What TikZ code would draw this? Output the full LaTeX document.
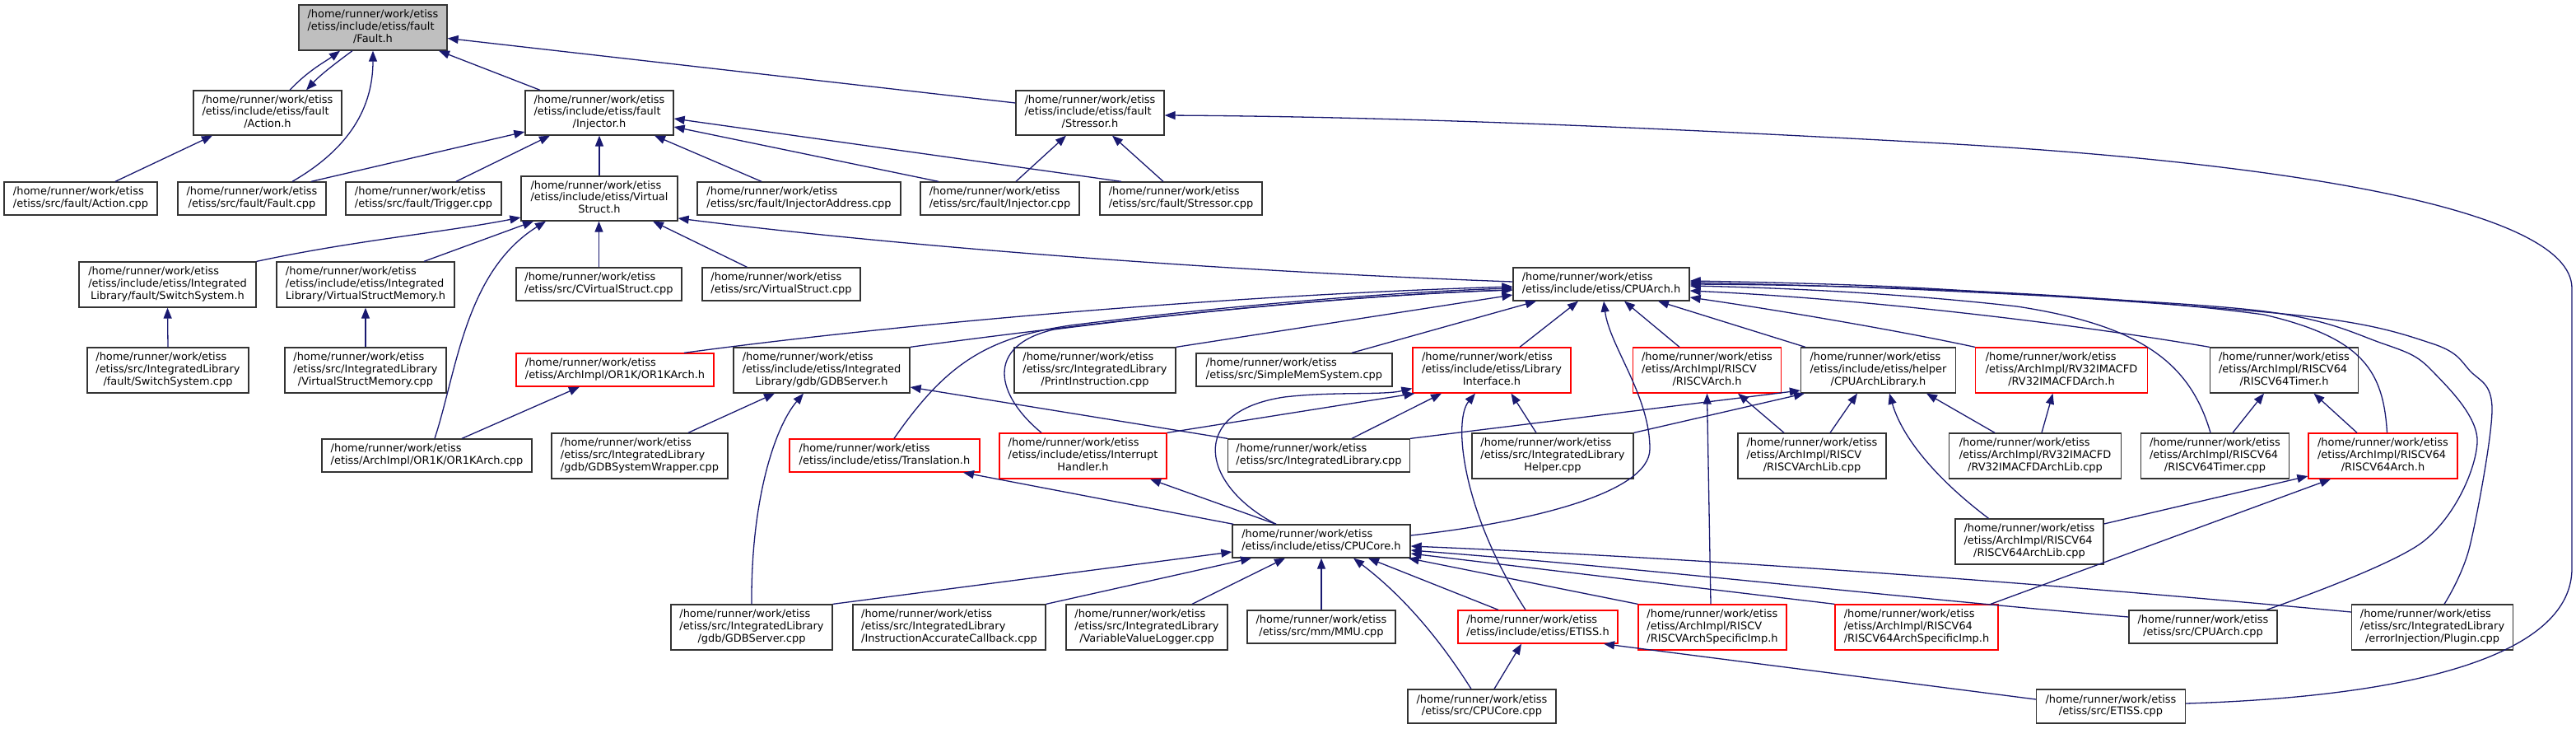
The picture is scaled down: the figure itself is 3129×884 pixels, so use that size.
\documentclass[tikz,border=0pt]{standalone}
\usepackage{fontspec}
\setmainfont{DejaVu Sans}
\usetikzlibrary{arrows.meta}
\definecolor{edgecol}{HTML}{191970}
\definecolor{rootfill}{HTML}{BFBFBF}
\definecolor{redborder}{HTML}{FF0000}
\definecolor{boxborder}{HTML}{333333}
\newcommand\nodefont{\fontsize{12.95}{14.7}\selectfont}
\newcommand\hp{/home/runner/work/etiss}
\newcommand\lthree[3]{\begin{tabular}{@{}l@{}}#1\\#2\\\multicolumn{1}{@{}c@{}}{#3}\end{tabular}}
\newcommand\ltwo[2]{\begin{tabular}{@{}l@{}}#1\\\multicolumn{1}{@{}c@{}}{#2}\end{tabular}}
\newcommand\nd[7]{\node[box,#6,minimum width=#4pt,minimum height=#5pt] (#1) at (#2,#3) {#7};}
\tikzset{
  box/.style={draw=boxborder, line width=1.3pt, fill=white, rectangle, inner sep=0pt, font=\nodefont},
  trunc/.style={draw=redborder},
  root/.style={fill=rootfill},
  plain/.style={},
  edge/.style={draw=edgecol, line width=1.3pt, -{Triangle[length=13pt,width=10pt]}, fill=none}
}
\begin{document}
\begin{tikzpicture}[x=1pt,y=-1pt]
\useasboundingbox (0,0) rectangle (3129,884);
% row 0
\nd{FaultH}{453}{33.5}{180}{55}{root}{\lthree{\hp}{/etiss/include/etiss/fault}{/Fault.h}}
% row 1
\nd{ActionH}{325}{137}{180}{54}{plain}{\lthree{\hp}{/etiss/include/etiss/fault}{/Action.h}}
\nd{InjectorH}{728}{137}{180}{54}{plain}{\lthree{\hp}{/etiss/include/etiss/fault}{/Injector.h}}
\nd{StressorH}{1324}{137}{180}{54}{plain}{\lthree{\hp}{/etiss/include/etiss/fault}{/Stressor.h}}
% row 2
\nd{ActionCpp}{98}{241}{186}{40}{plain}{\ltwo{\hp}{/etiss/src/fault/Action.cpp}}
\nd{FaultCpp}{306}{241}{180}{40}{plain}{\ltwo{\hp}{/etiss/src/fault/Fault.cpp}}
\nd{TriggerCpp}{514.5}{241}{189}{40}{plain}{\ltwo{\hp}{/etiss/src/fault/Trigger.cpp}}
\nd{VirtualStructH}{728}{241}{190}{54}{plain}{\lthree{\hp}{/etiss/include/etiss/Virtual}{Struct.h}}
\nd{InjectorAddressCpp}{970.5}{241}{247}{40}{plain}{\ltwo{\hp}{/etiss/src/fault/InjectorAddress.cpp}}
\nd{InjectorCpp}{1214.5}{241}{193}{40}{plain}{\ltwo{\hp}{/etiss/src/fault/Injector.cpp}}
\nd{StressorCpp}{1434.5}{241}{197}{40}{plain}{\ltwo{\hp}{/etiss/src/fault/Stressor.cpp}}
% row 3
\nd{SwitchSystemH}{203.5}{345.5}{215}{55}{plain}{\lthree{\hp}{/etiss/include/etiss/Integrated}{Library/fault/SwitchSystem.h}}
\nd{VirtualStructMemoryH}{444}{345.5}{216}{55}{plain}{\lthree{\hp}{/etiss/include/etiss/Integrated}{Library/VirtualStructMemory.h}}
\nd{CVirtualStructCpp}{727.5}{345}{201}{40}{plain}{\ltwo{\hp}{/etiss/src/CVirtualStruct.cpp}}
\nd{VirtualStructCpp}{949}{345}{192}{40}{plain}{\ltwo{\hp}{/etiss/src/VirtualStruct.cpp}}
\nd{CPUArchH}{1945}{345}{214}{40}{plain}{\ltwo{\hp}{/etiss/include/etiss/CPUArch.h}}
% row 4
\nd{SwitchSystemCpp}{204}{449.5}{196}{55}{plain}{\lthree{\hp}{/etiss/src/IntegratedLibrary}{/fault/SwitchSystem.cpp}}
\nd{VirtualStructMemoryCpp}{444}{449.5}{196}{55}{plain}{\lthree{\hp}{/etiss/src/IntegratedLibrary}{/VirtualStructMemory.cpp}}
\nd{OR1KArchH}{747}{449}{240}{40}{trunc}{\ltwo{\hp}{/etiss/ArchImpl/OR1K/OR1KArch.h}}
\nd{GDBServerH}{998}{449.5}{214}{55}{plain}{\lthree{\hp}{/etiss/include/etiss/Integrated}{Library/gdb/GDBServer.h}}
\nd{PrintInstructionCpp}{1330}{449.5}{196}{55}{plain}{\lthree{\hp}{/etiss/src/IntegratedLibrary}{/PrintInstruction.cpp}}
\nd{SimpleMemSystemCpp}{1572}{449}{238}{40}{plain}{\ltwo{\hp}{/etiss/src/SimpleMemSystem.cpp}}
\nd{LibraryInterfaceH}{1812}{449.5}{192}{55}{trunc}{\lthree{\hp}{/etiss/include/etiss/Library}{Interface.h}}
\nd{RISCVArchH}{2073.5}{449.5}{180}{55}{trunc}{\lthree{\hp}{/etiss/ArchImpl/RISCV}{/RISCVArch.h}}
\nd{CPUArchLibraryH}{2281.5}{449.5}{188}{55}{plain}{\lthree{\hp}{/etiss/include/etiss/helper}{/CPUArchLibrary.h}}
\nd{RVArchH}{2504}{449.5}{209}{55}{trunc}{\lthree{\hp}{/etiss/ArchImpl/RV32IMACFD}{/RV32IMACFDArch.h}}
\nd{RISCVTimerH}{2774.5}{449.5}{180}{55}{plain}{\lthree{\hp}{/etiss/ArchImpl/RISCV64}{/RISCV64Timer.h}}
% row 5
\nd{OR1KArchCpp}{518.5}{553}{255}{40}{plain}{\ltwo{\hp}{/etiss/ArchImpl/OR1K/OR1KArch.cpp}}
\nd{GDBSystemWrapperCpp}{777}{553.5}{214}{55}{plain}{\lthree{\hp}{/etiss/src/IntegratedLibrary}{/gdb/GDBSystemWrapper.cpp}}
\nd{TranslationH}{1074.5}{553}{231}{40}{trunc}{\ltwo{\hp}{/etiss/include/etiss/Translation.h}}
\nd{InterruptHandlerH}{1315.5}{553.5}{203}{55}{trunc}{\lthree{\hp}{/etiss/include/etiss/Interrupt}{Handler.h}}
\nd{IntegratedLibraryCpp}{1602}{553}{221}{40}{plain}{\ltwo{\hp}{/etiss/src/IntegratedLibrary.cpp}}
\nd{IntegratedLibraryHelperCpp}{1886}{553.5}{196}{55}{plain}{\lthree{\hp}{/etiss/src/IntegratedLibrary}{Helper.cpp}}
\nd{RISCVArchLibCpp}{2201}{553.5}{180}{55}{plain}{\lthree{\hp}{/etiss/ArchImpl/RISCV}{/RISCVArchLib.cpp}}
\nd{RVArchLibCpp}{2472}{553.5}{209}{55}{plain}{\lthree{\hp}{/etiss/ArchImpl/RV32IMACFD}{/RV32IMACFDArchLib.cpp}}
\nd{RISCVTimerCpp}{2690.5}{553.5}{180}{55}{plain}{\lthree{\hp}{/etiss/ArchImpl/RISCV64}{/RISCV64Timer.cpp}}
\nd{RISCVSixArchH}{2894.5}{553.5}{181}{55}{trunc}{\lthree{\hp}{/etiss/ArchImpl/RISCV64}{/RISCV64Arch.h}}
% row 6
\nd{CPUCoreH}{1605}{657}{216}{40}{plain}{\ltwo{\hp}{/etiss/include/etiss/CPUCore.h}}
\nd{RISCVSixArchLibCpp}{2465}{657.5}{180}{55}{plain}{\lthree{\hp}{/etiss/ArchImpl/RISCV64}{/RISCV64ArchLib.cpp}}
% row 7
\nd{GDBServerCpp}{913}{761.5}{196}{55}{plain}{\lthree{\hp}{/etiss/src/IntegratedLibrary}{/gdb/GDBServer.cpp}}
\nd{IACallbackCpp}{1153}{761.5}{234}{55}{plain}{\lthree{\hp}{/etiss/src/IntegratedLibrary}{/InstructionAccurateCallback.cpp}}
\nd{VVLoggerCpp}{1393}{761.5}{196}{55}{plain}{\lthree{\hp}{/etiss/src/IntegratedLibrary}{/VariableValueLogger.cpp}}
\nd{MMUCpp}{1605}{761}{180}{40}{plain}{\ltwo{\hp}{/etiss/src/mm/MMU.cpp}}
\nd{ETISSH}{1868}{761}{194}{40}{trunc}{\ltwo{\hp}{/etiss/include/etiss/ETISS.h}}
\nd{RISCVSpecH}{2080}{761.5}{180}{55}{trunc}{\lthree{\hp}{/etiss/ArchImpl/RISCV}{/RISCVArchSpecificImp.h}}
\nd{RISCVSixSpecH}{2328}{761.5}{198}{55}{trunc}{\lthree{\hp}{/etiss/ArchImpl/RISCV64}{/RISCV64ArchSpecificImp.h}}
\nd{CPUArchCpp}{2676}{761}{180}{40}{plain}{\ltwo{\hp}{/etiss/src/CPUArch.cpp}}
\nd{PluginCpp}{2954.5}{761.5}{196}{55}{plain}{\lthree{\hp}{/etiss/src/IntegratedLibrary}{/errorInjection/Plugin.cpp}}
% row 8
\nd{CPUCoreCpp}{1800}{857.5}{180}{41}{plain}{\ltwo{\hp}{/etiss/src/CPUCore.cpp}}
\nd{ETISSCpp}{2564}{857.5}{181}{41}{plain}{\ltwo{\hp}{/etiss/src/ETISS.cpp}}

% ---- edges into Fault.h
\draw[edge] ([xshift=27pt]ActionH.north) .. controls (375,85) and (395,75) .. ([xshift=-40pt]FaultH.south);
\draw[edge] ([xshift=-25pt]FaultH.south) .. controls (410,75) and (390,90) .. ([xshift=47pt]ActionH.north);
\draw[edge] ([xshift=49pt]FaultCpp.north) .. controls (425,180) and (453,130) .. (FaultH.south);
\draw[edge] ([xshift=-72pt]InjectorH.north) -- ([xshift=80pt]FaultH.south);
\draw[edge] ([yshift=12pt]StressorH.west) -- ([yshift=-13pt]FaultH.east);
% ---- Action.h, Injector.h, Stressor.h
\draw[edge] ([xshift=42pt]ActionCpp.north) -- ([xshift=-67pt]ActionH.south);
\draw[edge] ([xshift=72pt]FaultCpp.north) -- ([yshift=-23pt]InjectorH.west);
\draw[edge] ([xshift=39.5pt]TriggerCpp.north) -- ([xshift=-60pt]InjectorH.south);
\draw[edge] (VirtualStructH.north) -- (InjectorH.south);
\draw[edge] ([xshift=-45.5pt]InjectorAddressCpp.north) -- ([xshift=67pt]InjectorH.south);
\draw[edge] ([xshift=-74.5pt]InjectorCpp.north) -- ([yshift=-17pt]InjectorH.east);
\draw[edge] ([xshift=-72.5pt]StressorCpp.north) -- ([yshift=-7pt]InjectorH.east);
\draw[edge] ([xshift=19.5pt]InjectorCpp.north) -- ([xshift=-29pt]StressorH.south);
\draw[edge] ([xshift=-21.5pt]StressorCpp.north) -- ([xshift=27pt]StressorH.south);
\draw[edge] ([yshift=3.5pt]ETISSCpp.east) .. controls (2950,845) and (3124,790) .. (3124,690) -- (3124,350)
  .. controls (3124,250) and (2750,195) .. (2340,173) .. controls (2100,160) and (1750,142) .. ([yshift=-3pt]StressorH.east);
% ---- VirtualStruct.h
\draw[edge] (SwitchSystemH.north east) .. controls (430,292) and (540,282) .. ([yshift=-23pt]VirtualStructH.west);
\draw[edge] ([xshift=71pt]VirtualStructMemoryH.north) -- ([xshift=-80pt]VirtualStructH.south);
\draw[edge] ([xshift=9.5pt]OR1KArchCpp.north) .. controls (555,450) and (565,330) .. ([xshift=-65pt]VirtualStructH.south);
\draw[edge] (CVirtualStructCpp.north) -- (CVirtualStructCpp.north |- VirtualStructH.south);
\draw[edge] ([xshift=-41.5pt]VirtualStructCpp.north) -- ([xshift=65pt]VirtualStructH.south);
\draw[edge] ([yshift=3pt]CPUArchH.west) .. controls (1500,330) and (1100,300) .. ([yshift=-24pt]VirtualStructH.east);
% ---- SwitchSystem.h, VirtualStructMemory.h, OR1KArch.h, GDBServer.h
\draw[edge] (SwitchSystemCpp.north) -- (SwitchSystemH.south);
\draw[edge] (VirtualStructMemoryCpp.north) -- (VirtualStructMemoryH.south);
\draw[edge] ([xshift=42.5pt]OR1KArchCpp.north) -- ([xshift=-43pt]OR1KArchH.south);
\draw[edge] ([xshift=59pt]GDBSystemWrapperCpp.north) -- ([xshift=-57pt]GDBServerH.south);
\draw[edge] (GDBServerCpp.north) .. controls (912,610) and (940,520) .. ([xshift=-22pt]GDBServerH.south);
\draw[edge] (IntegratedLibraryCpp.north west) -- ([yshift=-20.5pt]GDBServerH.east);
% ---- CPUArch.h from the left
\draw[edge] ([xshift=84pt]OR1KArchH.north) .. controls (1100,392) and (1500,358) .. ([yshift=-3pt]CPUArchH.west);
\draw[edge] (GDBServerH.north east) .. controls (1300,395) and (1600,360) .. ([yshift=-7pt]CPUArchH.west);
\draw[edge] ([xshift=11.5pt]TranslationH.north) .. controls (1150,440) and (1200,410) .. (1300,395) .. controls (1500,370) and (1700,354) .. ([yshift=-5pt]CPUArchH.west);
\draw[edge] ([xshift=-50.5pt]InterruptHandlerH.north) .. controls (1210,480) and (1195,420) .. (1280,400) .. controls (1500,372) and (1700,356) .. ([yshift=-7pt]CPUArchH.west);
\draw[edge] (PrintInstructionCpp.north east) -- ([yshift=-13pt]CPUArchH.west);
\draw[edge] ([xshift=70pt]SimpleMemSystemCpp.north) -- ([xshift=-79pt]CPUArchH.south);
\draw[edge] ([xshift=34pt]LibraryInterfaceH.north) -- ([xshift=-28pt]CPUArchH.south);
\draw[edge] ([yshift=7pt]CPUCoreH.east) .. controls (1850,635) and (2004,600) .. (2004,545) .. controls (2004,480) and (1955,420) .. ([xshift=3pt]CPUArchH.south);
\draw[edge] ([xshift=-33.5pt]RISCVArchH.north) -- ([xshift=28pt]CPUArchH.south);
\draw[edge] ([xshift=-88.5pt]CPUArchLibraryH.north) -- ([xshift=69pt]CPUArchH.south);
% ---- CPUArch.h from the right
\draw[edge] (RVArchH.north west) .. controls (2300,400) and (2150,375) .. ([yshift=-16pt]CPUArchH.east);
\draw[edge] (RISCVTimerH.north west) .. controls (2500,390) and (2250,362) .. ([yshift=-8pt]CPUArchH.east);
\draw[edge] ([xshift=-5.5pt]RISCVTimerCpp.north) .. controls (2660,440) and (2600,395) .. (2450,372) .. controls (2300,355) and (2150,349) .. ([yshift=-2pt]CPUArchH.east);
\draw[edge] ([xshift=5pt]RISCVSixArchH.north) .. controls (2895,450) and (2870,410) .. (2750,382) .. controls (2550,355) and (2250,346) .. (CPUArchH.east);
\draw[edge] plot[smooth, tension=0.55] coordinates {([xshift=77pt]CPUArchCpp.north) (2944,657) (3009,537) (2954,450) (2894,417) (2743,377) (2340,352) ([yshift=2pt]CPUArchH.east)};
\draw[edge] plot[smooth, tension=0.55] coordinates {([xshift=14.5pt]PluginCpp.north) (3000,663) (3027,497) (3000,450) (2954,417) (2793,383) (2340,350) ([yshift=4pt]CPUArchH.east)};
% ---- CPUArchLibrary.h
\draw[edge] (IntegratedLibraryCpp.north east) -- ([yshift=-24.5pt]CPUArchLibraryH.west);
\draw[edge] (IntegratedLibraryHelperCpp.north east) -- ([xshift=-89.5pt]CPUArchLibraryH.south);
\draw[edge] ([xshift=22pt]RISCVArchLibCpp.north) -- ([xshift=-25.5pt]CPUArchLibraryH.south);
\draw[edge] ([xshift=-49.5pt]RISCVSixArchLibCpp.north) .. controls (2350,580) and (2310,530) .. ([xshift=13.5pt]CPUArchLibraryH.south);
\draw[edge] ([xshift=-49pt]RVArchLibCpp.north) -- ([xshift=58.5pt]CPUArchLibraryH.south);
% ---- RISCVArch.h
\draw[edge] ([xshift=-2pt]RISCVSpecH.north) -- (RISCVArchH.south);
\draw[edge] ([xshift=-34pt]RISCVArchLibCpp.north) -- ([xshift=37.5pt]RISCVArchH.south);
% ---- LibraryInterface.h
\draw[edge] ([xshift=-55pt]CPUCoreH.north) .. controls (1460,590) and (1440,500) .. (1560,482) .. controls (1620,475) and (1680,480) .. ([yshift=-22pt]LibraryInterfaceH.west);
\draw[edge] (InterruptHandlerH.north east) -- ([xshift=3pt]LibraryInterfaceH.south west);
\draw[edge] ([xshift=40pt]IntegratedLibraryCpp.north) -- ([xshift=-61pt]LibraryInterfaceH.south);
\draw[edge] ([xshift=-15pt]ETISSH.north) .. controls (1775,620) and (1765,510) .. ([xshift=-20pt]LibraryInterfaceH.south);
\draw[edge] ([xshift=-20pt]IntegratedLibraryHelperCpp.north) -- ([xshift=23.5pt]LibraryInterfaceH.south);
% ---- RV32IMACFDArch.h, RISCV64Timer.h, RISCV64Arch.h
\draw[edge] ([xshift=8pt]RVArchLibCpp.north) -- ([xshift=-10.5pt]RVArchH.south);
\draw[edge] ([xshift=21.5pt]RISCVTimerCpp.north) -- ([xshift=-24.5pt]RISCVTimerH.south);
\draw[edge] ([xshift=-31.5pt]RISCVSixArchH.north) -- ([xshift=36pt]RISCVTimerH.south);
\draw[edge] ([yshift=21.5pt]RISCVSixArchLibCpp.east) -- ([yshift=-24.5pt]RISCVSixArchH.west);
\draw[edge] ([xshift=90pt]RISCVSixSpecH.north) -- ([xshift=-63.5pt]RISCVSixArchH.south);
% ---- CPUCore.h
\draw[edge] (GDBServerCpp.north east) -- ([yshift=-13pt]CPUCoreH.west);
\draw[edge] (IACallbackCpp.north east) -- ([xshift=-85pt]CPUCoreH.south);
\draw[edge] ([xshift=55pt]VVLoggerCpp.north) -- ([xshift=-44pt]CPUCoreH.south);
\draw[edge] (MMUCpp.north) -- (MMUCpp.north |- CPUCoreH.south);
\draw[edge] ([xshift=-13pt]CPUCoreCpp.north) .. controls (1745,770) and (1700,720) .. ([xshift=39pt]CPUCoreH.south);
\draw[edge] ([xshift=-48pt]ETISSH.north) -- ([xshift=57pt]CPUCoreH.south);
\draw[edge] (RISCVSpecH.north west) -- ([xshift=-3pt]CPUCoreH.south east);
\draw[edge] (RISCVSixSpecH.north west) -- ([yshift=-15pt]CPUCoreH.east);
\draw[edge] ([yshift=12pt]CPUArchCpp.west) .. controls (2300,725) and (2000,690) .. ([yshift=-11pt]CPUCoreH.east);
\draw[edge] ([yshift=18.5pt]PluginCpp.west) .. controls (2400,700) and (2000,675) .. ([yshift=-6pt]CPUCoreH.east);
% ---- Translation.h, InterruptHandler.h, ETISS.h
\draw[edge] ([xshift=2pt]CPUCoreH.north west) -- ([xshift=95.5pt]TranslationH.south);
\draw[edge] ([xshift=-55pt]CPUCoreH.north) -- ([xshift=81.5pt]InterruptHandlerH.south);
\draw[edge] ([xshift=15pt]CPUCoreCpp.north) -- ([xshift=-20pt]ETISSH.south);
\draw[edge] ([yshift=8.5pt]ETISSCpp.west) -- ([xshift=80pt]ETISSH.south);
\end{tikzpicture}
\end{document}
